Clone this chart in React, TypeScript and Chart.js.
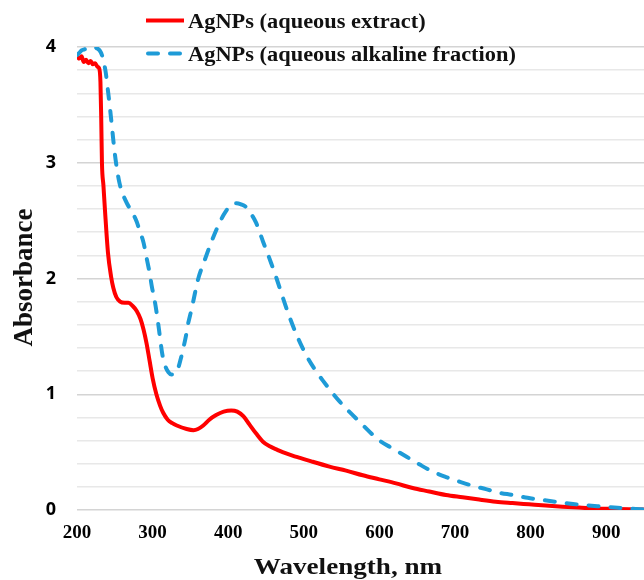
import React, { useEffect, useRef } from "react";
import { Chart, registerables } from "chart.js";

Chart.register(...registerables);

// ---- Data ----
const seriesNames = ["AgNPs (aqueous extract)", "AgNPs (aqueous alkaline fraction)"];

const extractWavelength = [
  200, 203, 206, 209, 212, 215, 218, 221, 224, 227, 229, 231, 232, 233, 235, 237, 241, 245, 248, 252,
  257, 263, 268, 274, 279, 284, 288, 292, 296, 300, 305, 310, 314, 320, 326, 332, 345, 354, 360, 367,
  375, 384, 394, 404, 412, 420, 428, 437, 446, 455, 465, 472, 485, 495, 510, 534, 556, 578, 600, 622,
  644, 666, 688, 710, 732, 754, 776, 798, 820, 842, 864, 886, 908, 930, 950,
];
const extractAbsorbance = [
  3.92, 3.9, 3.92, 3.87, 3.89, 3.86, 3.88, 3.85, 3.86, 3.83, 3.82, 3.7, 3.4, 3.0, 2.8, 2.59, 2.22, 2.02, 1.92, 1.84,
  1.8, 1.79, 1.79, 1.76, 1.72, 1.65, 1.56, 1.44, 1.29, 1.14, 1.0, 0.9, 0.84, 0.78, 0.75, 0.73, 0.7, 0.69, 0.7, 0.73,
  0.78, 0.82, 0.85, 0.86, 0.85, 0.81, 0.74, 0.66, 0.59, 0.55, 0.52, 0.5, 0.47, 0.45, 0.42, 0.375, 0.34, 0.3, 0.265, 0.23,
  0.19, 0.16, 0.13, 0.11, 0.09, 0.072, 0.06, 0.049, 0.038, 0.029, 0.021, 0.014, 0.01, 0.006, 0.004,
];

const alkalineWavelength = [
  200, 203, 206, 210, 214, 218, 222, 226, 230, 233, 235, 238, 241, 244, 247, 250, 253, 256, 260, 266,
  274, 279, 283, 288, 292, 296, 299, 303, 307, 310, 313, 317, 321, 325, 328, 331, 334, 337, 340, 344,
  347, 351, 354, 360, 369, 378, 387, 394, 400, 405, 411, 417, 423, 429, 437, 446, 457, 464, 472, 481,
  490, 503, 514, 525, 547, 574, 600, 618, 636, 654, 671, 688, 706, 723, 741, 758, 776, 796, 816, 836,
  856, 875, 895, 915, 935, 950,
];
const alkalineAbsorbance = [
  3.93, 3.95, 3.97, 3.98, 3.99, 4.0, 4.0, 3.99, 3.97, 3.93, 3.88, 3.78, 3.62, 3.45, 3.26, 3.08, 2.94, 2.83, 2.74, 2.65,
  2.56, 2.49, 2.41, 2.31, 2.18, 2.05, 1.93, 1.8, 1.63, 1.48, 1.34, 1.24, 1.19, 1.17, 1.17, 1.19, 1.23, 1.3, 1.38, 1.5,
  1.61, 1.72, 1.81, 1.99, 2.16, 2.32, 2.46, 2.55, 2.61, 2.64, 2.65, 2.64, 2.62, 2.57, 2.48, 2.32, 2.13, 2.0, 1.84, 1.67,
  1.52, 1.34, 1.22, 1.12, 0.94, 0.76, 0.6, 0.53, 0.46, 0.39, 0.33, 0.285, 0.245, 0.21, 0.18, 0.15, 0.13, 0.105, 0.086, 0.068,
  0.052, 0.04, 0.03, 0.02, 0.01, 0.006,
];

const xTitle = "Wavelength, nm";
const yTitle = "Absorbance";
const xMin = 200;
const xMax = 950;
const xStep = 100;
const yMin = 0;
const yMax = 4;
const yStep = 0.2;

const RED = "#ff0000";
const BLUE = "#1e9bd7";
const SERIF = "'Liberation Serif', 'Times New Roman', serif";

const toPoints = (xs: number[], ys: number[]) => xs.map((x, i) => ({ x, y: ys[i] }));

const isWhole = (v: number) => Math.abs(v - Math.round(v)) < 1e-6;

const decorPlugin = {
  id: "decor",
  afterDraw(chart: any) {
    const ctx = chart.ctx as CanvasRenderingContext2D;
    ctx.save();
    ctx.fillStyle = "#111";

    // Legend
    const items = [
      { color: RED, dash: [] as number[], lineY: 20.5, baseY: 28, text: seriesNames[0] },
      { color: BLUE, dash: [10, 12], lineY: 53.5, baseY: 61, text: seriesNames[1] },
    ];
    for (const it of items) {
      ctx.save();
      ctx.strokeStyle = it.color;
      ctx.lineWidth = 4;
      ctx.lineCap = it.dash.length ? "round" : "butt";
      ctx.setLineDash(it.dash);
      ctx.beginPath();
      ctx.moveTo(it.dash.length ? 148 : 146, it.lineY);
      ctx.lineTo(it.dash.length ? 182 : 184, it.lineY);
      ctx.stroke();
      ctx.restore();

      ctx.save();
      ctx.font = `bold 20px ${SERIF}`;
      ctx.textAlign = "left";
      ctx.textBaseline = "alphabetic";
      ctx.translate(188, it.baseY);
      ctx.scale(1.12, 1);
      ctx.fillText(it.text, 0, 0);
      ctx.restore();
    }

    // X title
    ctx.save();
    ctx.font = `bold 24px ${SERIF}`;
    ctx.textAlign = "center";
    ctx.textBaseline = "alphabetic";
    ctx.translate(348, 574);
    ctx.scale(1.13, 1);
    ctx.fillText(xTitle, 0, 0);
    ctx.restore();

    // Y title
    ctx.save();
    ctx.font = `bold 27px ${SERIF}`;
    ctx.textAlign = "center";
    ctx.textBaseline = "alphabetic";
    ctx.translate(31.5, 277.5);
    ctx.rotate(-Math.PI / 2);
    ctx.fillText(yTitle, 0, 0);
    ctx.restore();

    ctx.restore();
  },
};

export default function App() {
  const canvasRef = useRef<HTMLCanvasElement | null>(null);

  useEffect(() => {
    document.body.style.margin = "0";
    const canvas = canvasRef.current;
    if (!canvas) return;
    const chart = new Chart(canvas, {
      type: "line",
      data: {
        datasets: [
          {
            label: seriesNames[0],
            data: toPoints(extractWavelength, extractAbsorbance),
            borderColor: RED,
            backgroundColor: RED,
            borderWidth: 4,
            pointRadius: 0,
            fill: false,
            cubicInterpolationMode: "monotone",
            borderJoinStyle: "round",
            order: 1,
          },
          {
            label: seriesNames[1],
            data: toPoints(alkalineWavelength, alkalineAbsorbance),
            borderColor: BLUE,
            backgroundColor: BLUE,
            borderWidth: 4,
            borderDash: [10, 12],
            borderCapStyle: "round",
            pointRadius: 0,
            fill: false,
            cubicInterpolationMode: "monotone",
            order: 0,
          },
        ],
      },
      options: {
        animation: false,
        responsive: false,
        layout: { padding: { top: 47, left: 0, right: 0, bottom: 0 } },
        plugins: {
          legend: { display: false },
          tooltip: { enabled: false },
        },
        scales: {
          x: {
            type: "linear",
            min: xMin,
            max: xMax,
            grid: { display: false, drawTicks: false },
            border: { display: false },
            ticks: {
              stepSize: xStep,
              includeBounds: false,
              autoSkip: false,
              padding: 12,
              color: "#000",
              maxRotation: 0,
              font: { family: SERIF, weight: "bold", size: 19 },
            },
            afterFit: (s: any) => {
              s.height = 70;
            },
          },
          y: {
            min: yMin,
            max: yMax,
            grid: {
              drawTicks: false,
              lineWidth: 1.5,
              color: (c: any) => {
                const v = c.tick ? c.tick.value : 0;
                return isWhole(v) ? "#d4d4d4" : "#e8e8e8";
              },
            },
            border: { display: false },
            ticks: {
              stepSize: yStep,
              maxTicksLimit: 100,
              autoSkip: false,
              padding: 21,
              color: "#000",
              font: { family: "'Open Sans', sans-serif", weight: "bold", size: 18 },
              callback: (v: any) => {
                const n = Number(v);
                return isWhole(n) ? String(Math.round(n)) : "";
              },
            },
            afterFit: (s: any) => {
              s.width = 77;
            },
          },
        },
      },
      plugins: [decorPlugin],
    });
    return () => chart.destroy();
  }, []);

  return (
    <div style={{ width: 644, height: 580 }}>
      <canvas ref={canvasRef} width={644} height={580} />
    </div>
  );
}
